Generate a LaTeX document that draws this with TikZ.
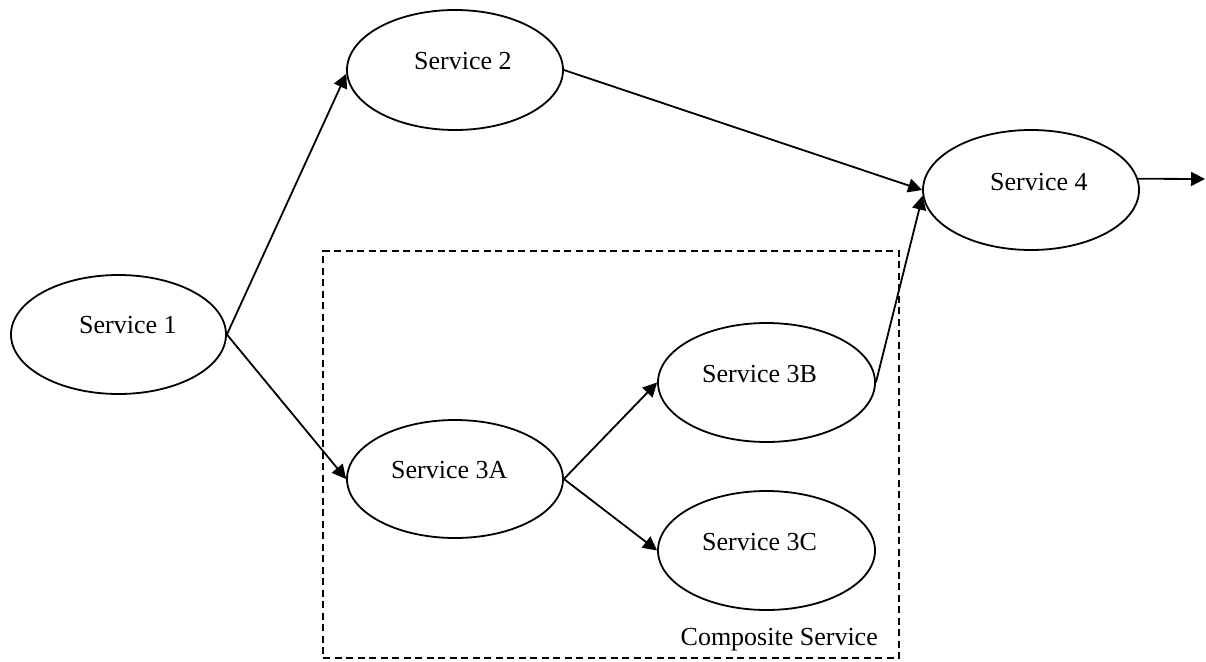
\documentclass[tikz,border=0pt]{standalone}
\usepackage{fontspec}
\setmainfont{Liberation Serif}
\usetikzlibrary{shapes.geometric,arrows.meta}
\begin{document}
\begin{tikzpicture}[x=1pt,y=-1pt,
  svc/.style={ellipse,draw,line width=1.8pt,inner sep=0pt,minimum width=216pt,minimum height=119pt},
  lbl/.style={inner sep=0pt,anchor=base west,font=\fontsize{26}{30}\selectfont},
  arr/.style={line width=1.8pt,-{Triangle[length=14pt,width=14pt]}},
  compbox/.style={draw,dashed,dash pattern=on 7pt off 4.5pt,line width=1.8pt,inner sep=0pt}]
\useasboundingbox (0,0) rectangle (1206,661);
\node[compbox,minimum width=576pt,minimum height=407pt] (box) at (611,454.5) {};
\node[svc,minimum width=215pt] (S1) at (118.5,334.5) {};
\node[svc,minimum height=120pt] (S2) at (455,70) {};
\node[svc,minimum height=118pt] (S3A) at (455,479) {};
\node[svc,minimum width=217pt] (S3B) at (766.5,382.5) {};
\node[svc,minimum width=217pt] (S3C) at (766.5,550.5) {};
\node[svc,minimum height=120pt] (S4) at (1031,190) {};
\node[lbl] (t1) at (79,333) {Service 1};
\node[lbl] (t2) at (414,69) {Service 2};
\node[lbl] (t3A) at (391,478) {Service 3A};
\node[lbl] (t3B) at (702,382) {Service 3B};
\node[lbl] (t3C) at (702,550) {Service 3C};
\node[lbl] (t4) at (990,190) {Service 4};
\node[lbl,anchor=base east] (tc) at (878,645) {Composite Service};
\coordinate (out) at (1205,179);
\draw[arr] (S1.east) -- (S2.182);
\draw[arr] (S1.east) -- (S3A.west);
\draw[arr] (S2.east) -- (S4.west);
\draw[arr] (S3B.east) -- (S4.183);
\draw[arr] (S3A.east) -- (S3B.west);
\draw[arr] (S3A.east) -- (S3C.west);
\draw[arr] (S4.6) -- (out);
\end{tikzpicture}
\end{document}
